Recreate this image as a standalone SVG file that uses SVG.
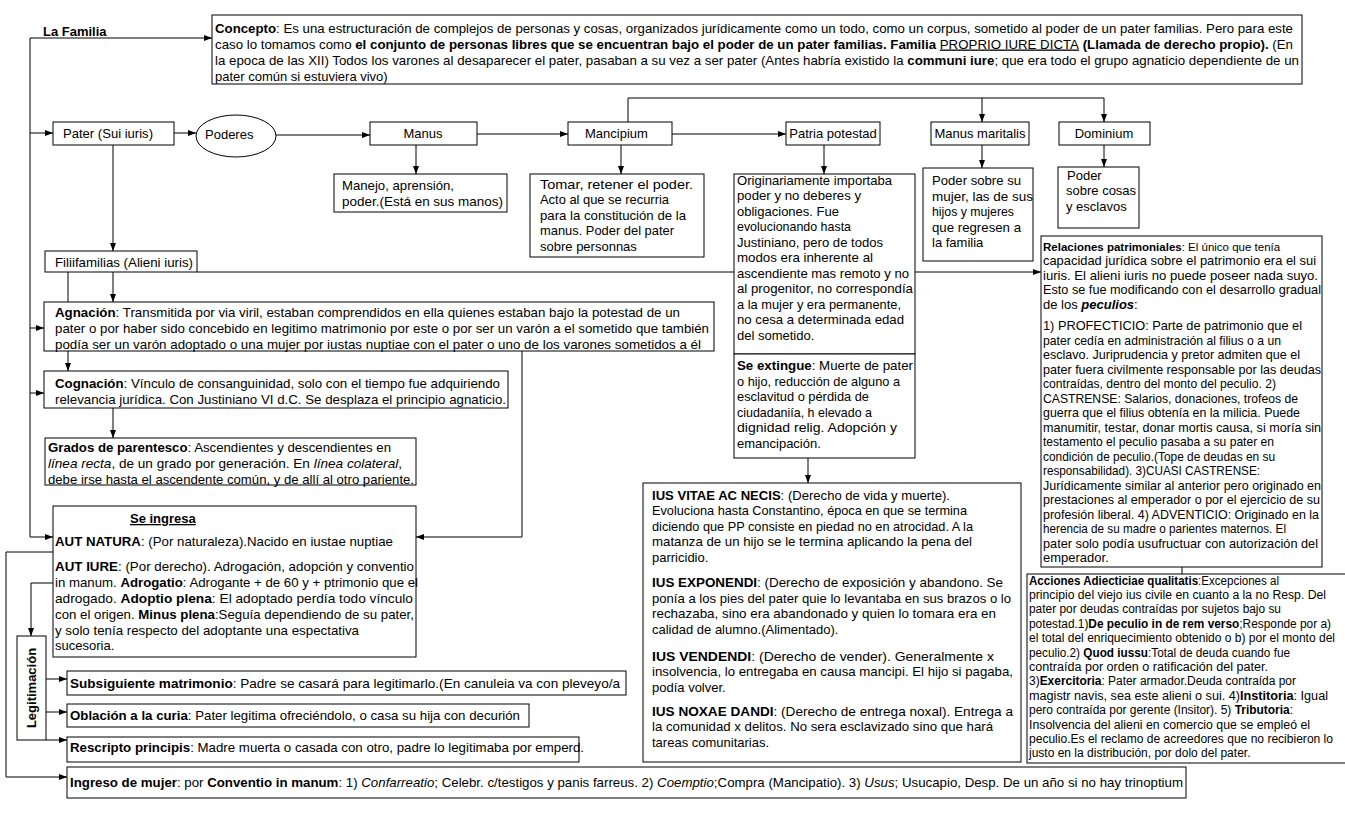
<svg xmlns="http://www.w3.org/2000/svg" width="1345" height="816" viewBox="0 0 1345 816">
<style>
.t{font-family:"Liberation Sans",Arial,sans-serif;font-size:13px;fill:#000}
.s{font-size:12px}
.b{font-weight:bold}
.i{font-style:italic}
.u{text-decoration:underline}
.box{fill:#fff;stroke:#000;stroke-width:1}
.ln{fill:none;stroke:#000;stroke-width:1}
</style>
<defs>
<marker id="ah" viewBox="0 0 8 6" refX="8" refY="3" markerWidth="8" markerHeight="6" markerUnits="userSpaceOnUse" orient="auto"><path d="M0,0 L8,3 L0,6 z" fill="#000"/></marker>
</defs>
<rect x="0" y="0" width="1345" height="816" fill="#fff"/>
<g id="connectors" class="ln">
<path d="M30,38 H212" marker-end="url(#ah)"/>
<path d="M30,38 V537 H53" marker-end="url(#ah)"/>
<path d="M30,133 H53" marker-end="url(#ah)"/>
<path d="M30,328 H44" marker-end="url(#ah)"/>
<path d="M30,393 H44" marker-end="url(#ah)"/>
<path d="M174,133 H196" marker-end="url(#ah)"/>
<path d="M276,135 H370" marker-end="url(#ah)"/>
<path d="M477,134 H568" marker-end="url(#ah)"/>
<path d="M672,134 H786" marker-end="url(#ah)"/>
<path d="M628,122 V98 H1104 V122" marker-end="url(#ah)"/>
<path d="M982,98 V122" marker-end="url(#ah)"/>
<path d="M416,145 V174" marker-end="url(#ah)"/>
<path d="M621,145 V174" marker-end="url(#ah)"/>
<path d="M824,145 V174" marker-end="url(#ah)"/>
<path d="M982,145 V168" marker-end="url(#ah)"/>
<path d="M1104,145 V167" marker-end="url(#ah)"/>
<path d="M113,145 V251" marker-end="url(#ah)"/>
<path d="M113,272 V302" marker-end="url(#ah)"/>
<path d="M68,272 V371" marker-end="url(#ah)"/>
<path d="M197,272 H1041" marker-end="url(#ah)"/>
<path d="M522,351 V537 H416" marker-end="url(#ah)"/>
<path d="M113,408 V438" marker-end="url(#ah)"/>
<path d="M808,458 V483" marker-end="url(#ah)"/>
<path d="M1182,567 V574"/>
<path d="M53,552 H6 V777 H67" marker-end="url(#ah)"/>
<path d="M53,583 H31 V636" marker-end="url(#ah)"/>
<path d="M46,679 H67" marker-end="url(#ah)"/>
<path d="M46,712 H67" marker-end="url(#ah)"/>
<path d="M46,740 H67" marker-end="url(#ah)"/>
</g>
<g id="la-familia">
<text class="t b" x="43" y="36">La Familia</text>
</g>
<g id="concepto">
<rect class="box" x="212" y="15" width="1090" height="69"/>
<text class="t" x="215" y="32.5" textLength="1078" lengthAdjust="spacingAndGlyphs"><tspan class="b">Concepto</tspan>:  Es una estructuración de complejos de personas y cosas, organizados jurídicamente como un todo, como un corpus, sometido al poder de un pater familias. Pero para este</text>
<text class="t" x="215" y="48.5" textLength="1078" lengthAdjust="spacingAndGlyphs">caso lo tomamos como <tspan class="b">el conjunto de personas libres que se encuentran bajo el poder de un pater familias. Familia </tspan><tspan class="u">PROPRIO IURE DICTA</tspan><tspan class="b"> (Llamada de derecho propio).</tspan> (En</text>
<text class="t" x="215" y="64.5" textLength="1084" lengthAdjust="spacingAndGlyphs">la epoca de las XII) Todos los varones al desaparecer el pater, pasaban a su vez a ser pater  (Antes habría existido la <tspan class="b">communi iure</tspan>; que era todo el grupo agnaticio dependiente de un</text>
<text class="t" x="215" y="80.5">pater común si estuviera vivo)</text>
</g>
<g id="pater">
<rect class="box" x="53" y="122" width="121" height="23"/>
<text class="t" x="63" y="138" textLength="90" lengthAdjust="spacingAndGlyphs">Pater (Sui iuris)</text>
</g>
<g id="poderes">
<ellipse class="box" cx="236" cy="136" rx="40" ry="21"/>
<text class="t" x="205" y="139">Poderes</text>
</g>
<g id="manus">
<rect class="box" x="370" y="122" width="107" height="23"/>
<text class="t" x="423" y="138" text-anchor="middle">Manus</text>
</g>
<g id="mancipium">
<rect class="box" x="568" y="122" width="104" height="23"/>
<text class="t" x="585" y="138">Mancipium</text>
</g>
<g id="patria-potestad">
<rect class="box" x="786" y="122" width="94" height="23"/>
<text class="t" x="833" y="138" text-anchor="middle">Patria potestad</text>
</g>
<g id="manus-maritalis">
<rect class="box" x="931" y="122" width="98" height="23"/>
<text class="t" x="980" y="138" text-anchor="middle">Manus maritalis</text>
</g>
<g id="dominium">
<rect class="box" x="1059" y="122" width="91" height="23"/>
<text class="t" x="1104" y="138" text-anchor="middle">Dominium</text>
</g>
<g id="manejo">
<rect class="box" x="334" y="174" width="173" height="38"/>
<text class="t" x="342" y="189.5" textLength="112" lengthAdjust="spacingAndGlyphs">Manejo, aprensión,</text>
<text class="t" x="342" y="205.5" textLength="161" lengthAdjust="spacingAndGlyphs">poder.(Está en sus manos)</text>
</g>
<g id="tomar">
<rect class="box" x="530" y="174" width="174" height="83"/>
<text class="t" x="540" y="188.5" textLength="153" lengthAdjust="spacingAndGlyphs">Tomar, retener el poder.</text>
<text class="t" x="540" y="204" textLength="129" lengthAdjust="spacingAndGlyphs">Acto al que se recurria</text>
<text class="t" x="540" y="219.5" textLength="146" lengthAdjust="spacingAndGlyphs">para la constitución de la</text>
<text class="t" x="540" y="235" textLength="134" lengthAdjust="spacingAndGlyphs">manus. Poder del pater</text>
<text class="t" x="540" y="250.5">sobre personnas</text>
</g>
<g id="originariamente">
<rect class="box" x="734" y="174" width="181" height="180"/>
<text class="t" x="737" y="184.5" textLength="155" lengthAdjust="spacingAndGlyphs">Originariamente importaba</text>
<text class="t" x="737" y="200" textLength="124" lengthAdjust="spacingAndGlyphs">poder y no deberes y</text>
<text class="t" x="737" y="215.5" textLength="102" lengthAdjust="spacingAndGlyphs">obligaciones. Fue</text>
<text class="t" x="737" y="231" textLength="114" lengthAdjust="spacingAndGlyphs">evolucionando hasta</text>
<text class="t" x="737" y="246.5" textLength="146" lengthAdjust="spacingAndGlyphs">Justiniano, pero de todos</text>
<text class="t" x="737" y="262" textLength="136" lengthAdjust="spacingAndGlyphs">modos era inherente  al</text>
<text class="t" x="737" y="277.5" textLength="172" lengthAdjust="spacingAndGlyphs">ascendiente mas remoto y no</text>
<text class="t" x="737" y="293" textLength="176" lengthAdjust="spacingAndGlyphs">al progenitor, no correspondía</text>
<text class="t" x="737" y="308.5" textLength="164" lengthAdjust="spacingAndGlyphs">a la mujer y era permanente,</text>
<text class="t" x="737" y="324" textLength="167" lengthAdjust="spacingAndGlyphs">no cesa a determinada edad</text>
<text class="t" x="737" y="339.5">del sometido.</text>
</g>
<g id="se-extingue">
<rect class="box" x="734" y="354" width="181" height="104"/>
<text class="t" x="737" y="370" textLength="176" lengthAdjust="spacingAndGlyphs"><tspan class="b">Se extingue</tspan>:  Muerte  de pater</text>
<text class="t" x="737" y="385.5" textLength="163" lengthAdjust="spacingAndGlyphs">o hijo, reducción de alguno a</text>
<text class="t" x="737" y="401" textLength="132" lengthAdjust="spacingAndGlyphs">esclavitud o pérdida de</text>
<text class="t" x="737" y="416.5" textLength="135" lengthAdjust="spacingAndGlyphs">ciudadaniía,  h elevado a</text>
<text class="t" x="737" y="432" textLength="160" lengthAdjust="spacingAndGlyphs">dignidad relig. Adopción y</text>
<text class="t" x="737" y="447.5">emancipación.</text>
</g>
<g id="poder-mujer">
<rect class="box" x="923" y="168" width="110" height="93"/>
<text class="t" x="932" y="185" textLength="89" lengthAdjust="spacingAndGlyphs">Poder sobre su</text>
<text class="t" x="932" y="200.5" textLength="101" lengthAdjust="spacingAndGlyphs">mujer,  las de sus</text>
<text class="t" x="932" y="216" textLength="82" lengthAdjust="spacingAndGlyphs">hijos y mujeres</text>
<text class="t" x="932" y="231.5" textLength="89" lengthAdjust="spacingAndGlyphs">que regresen a</text>
<text class="t" x="932" y="247">la familia</text>
</g>
<g id="poder-cosas">
<rect class="box" x="1058" y="167" width="81" height="61"/>
<text class="t" x="1067" y="179.5">Poder</text>
<text class="t" x="1066" y="195">sobre cosas</text>
<text class="t" x="1066" y="210.5">y esclavos</text>
</g>
<g id="filiifamilias">
<rect class="box" x="45" y="251" width="152" height="21"/>
<text class="t" x="55" y="267" textLength="138" lengthAdjust="spacingAndGlyphs">Filiifamilias (Alieni iuris)</text>
</g>
<g id="relaciones">
<rect class="box" x="1041" y="236" width="281" height="331"/>
<text class="t" x="1043" y="250.5" style="font-size:11.5px"><tspan class="b">Relaciones patrimoniales</tspan>: El único que tenía</text>
<text class="t" x="1043" y="265" textLength="273" lengthAdjust="spacingAndGlyphs">capacidad jurídica sobre el patrimonio era el sui</text>
<text class="t" x="1043" y="279.5" textLength="275" lengthAdjust="spacingAndGlyphs">iuris. El alieni iuris no puede poseer nada suyo.</text>
<text class="t" x="1043" y="294" textLength="278" lengthAdjust="spacingAndGlyphs">Esto se fue modificando con el desarrollo gradual</text>
<text class="t" x="1043" y="308.5">de los <tspan class="b i">peculios</tspan>:</text>
<text class="t" x="1043" y="330" textLength="259" lengthAdjust="spacingAndGlyphs">1) PROFECTICIO:  Parte de patrimonio que el</text>
<text class="t" x="1043" y="344.5" textLength="238" lengthAdjust="spacingAndGlyphs">pater cedía en administración al filius o a un</text>
<text class="t" x="1043" y="359" textLength="257" lengthAdjust="spacingAndGlyphs">esclavo. Juriprudencia y pretor admiten que el</text>
<text class="t" x="1043" y="373.5" textLength="278" lengthAdjust="spacingAndGlyphs">pater fuera civilmente responsable por las deudas</text>
<text class="t" x="1043" y="388" textLength="233" lengthAdjust="spacingAndGlyphs">contraídas, dentro del monto del peculio. 2)</text>
<text class="t" x="1043" y="402.5" textLength="255" lengthAdjust="spacingAndGlyphs">CASTRENSE: Salarios, donaciones, trofeos de</text>
<text class="t" x="1043" y="417" textLength="257" lengthAdjust="spacingAndGlyphs">guerra que el filius obtenía en la milicia. Puede</text>
<text class="t" x="1043" y="431.5" textLength="278" lengthAdjust="spacingAndGlyphs">manumitir, testar, donar mortis causa, si moría sin</text>
<text class="t" x="1043" y="446" textLength="231" lengthAdjust="spacingAndGlyphs">testamento el peculio pasaba a su pater en</text>
<text class="t" x="1043" y="460.5" textLength="232" lengthAdjust="spacingAndGlyphs">condición de peculio.(Tope de deudas en su</text>
<text class="t" x="1043" y="475" textLength="217" lengthAdjust="spacingAndGlyphs">responsabilidad). 3)CUASI CASTRENSE:</text>
<text class="t" x="1043" y="489.5" textLength="278" lengthAdjust="spacingAndGlyphs">Jurídicamente similar al anterior pero originado en</text>
<text class="t" x="1043" y="504" textLength="277" lengthAdjust="spacingAndGlyphs">prestaciones al emperador o por el ejercicio de su</text>
<text class="t" x="1043" y="518.5" textLength="276" lengthAdjust="spacingAndGlyphs">profesión liberal. 4) ADVENTICIO: Originado en la</text>
<text class="t" x="1043" y="533" textLength="243" lengthAdjust="spacingAndGlyphs">herencia de su madre o parientes maternos. El</text>
<text class="t" x="1043" y="547.5" textLength="275" lengthAdjust="spacingAndGlyphs">pater solo podía usufructuar con autorización del</text>
<text class="t" x="1043" y="562">emperador.</text>
</g>
<g id="acciones">
<rect class="box" x="1027" y="574" width="330" height="189"/>
<text class="t s" x="1029" y="584.5" textLength="250" lengthAdjust="spacingAndGlyphs"><tspan class="b">Acciones Adiecticiae qualitatis</tspan>:Excepciones al</text>
<text class="t s" x="1029" y="598.9" textLength="297" lengthAdjust="spacingAndGlyphs">principio del viejo ius civile en cuanto a la no Resp.  Del</text>
<text class="t s" x="1029" y="613.3" textLength="252" lengthAdjust="spacingAndGlyphs">pater por deudas contraídas por sujetos bajo su</text>
<text class="t s" x="1029" y="627.7" textLength="302" lengthAdjust="spacingAndGlyphs">potestad.1)<tspan class="b">De peculio in de rem verso</tspan>;Responde por a)</text>
<text class="t s" x="1029" y="642.1" textLength="306" lengthAdjust="spacingAndGlyphs">el total del enriquecimiento obtenido o b) por el monto del</text>
<text class="t s" x="1029" y="656.5" textLength="261" lengthAdjust="spacingAndGlyphs">peculio.2) <tspan class="b">Quod iussu</tspan>:Total  de deuda cuando fue</text>
<text class="t s" x="1029" y="670.9" textLength="239" lengthAdjust="spacingAndGlyphs">contraída por orden o ratificación del pater.</text>
<text class="t s" x="1029" y="685.3" textLength="267" lengthAdjust="spacingAndGlyphs">3)<tspan class="b">Exercitoria</tspan>: Pater armador.Deuda contraída por</text>
<text class="t s" x="1029" y="699.7" textLength="299" lengthAdjust="spacingAndGlyphs">magistr navis, sea este alieni o sui. 4)<tspan class="b">Institoria</tspan>:  Igual</text>
<text class="t s" x="1029" y="714.1" textLength="264" lengthAdjust="spacingAndGlyphs">pero contraída por gerente (Insitor).  5) <tspan class="b">Tributoria</tspan>:</text>
<text class="t s" x="1029" y="728.5" textLength="281" lengthAdjust="spacingAndGlyphs">Insolvencia del alieni en comercio que se empleó el</text>
<text class="t s" x="1029" y="742.9" textLength="304" lengthAdjust="spacingAndGlyphs">peculio.Es el reclamo de acreedores que no recibieron lo</text>
<text class="t s" x="1029" y="757.3">justo en la distribución, por dolo del pater.</text>
</g>
<g id="agnacion">
<rect class="box" x="44" y="302" width="670" height="49"/>
<text class="t" x="55" y="317" textLength="625" lengthAdjust="spacingAndGlyphs"><tspan class="b">Agnación</tspan>:  Transmitida por via viril, estaban comprendidos en ella quienes estaban bajo la potestad de un</text>
<text class="t" x="55" y="333" textLength="654" lengthAdjust="spacingAndGlyphs">pater o por haber sido concebido en legitimo matrimonio por este o por ser un varón a el sometido que también</text>
<text class="t" x="55" y="349" textLength="646" lengthAdjust="spacingAndGlyphs">podía ser un varón adoptado o una mujer por iustas nuptiae con el pater o uno  de los varones sometidos a él</text>
</g>
<g id="cognacion">
<rect class="box" x="44" y="371" width="464" height="37"/>
<text class="t" x="55" y="388" textLength="445" lengthAdjust="spacingAndGlyphs"><tspan class="b">Cognación</tspan>:  Vínculo de consanguinidad, solo con el tiempo fue adquiriendo</text>
<text class="t" x="55" y="404" textLength="451" lengthAdjust="spacingAndGlyphs">relevancia jurídica. Con Justiniano VI d.C. Se desplaza el principio agnaticio.</text>
</g>
<g id="grados">
<rect class="box" x="45" y="438" width="371" height="47"/>
<text class="t" x="48" y="452" textLength="343" lengthAdjust="spacingAndGlyphs"><tspan class="b">Grados  de parentesco</tspan>:  Ascendientes y descendientes en</text>
<text class="t" x="48" y="468" textLength="354" lengthAdjust="spacingAndGlyphs"><tspan class="i">línea recta</tspan>,  de un  grado por generación. En <tspan class="i">línea colateral</tspan>,</text>
<text class="t" x="48" y="483.5" textLength="366" lengthAdjust="spacingAndGlyphs">debe irse hasta el ascendente común, y de allí al otro pariente.</text>
</g>
<g id="se-ingresa">
<rect class="box" x="53" y="506" width="363" height="151"/>
<text class="t b u" x="130" y="523">Se ingresa</text>
<text class="t" x="55" y="546" textLength="338" lengthAdjust="spacingAndGlyphs"><tspan class="b">AUT NATURA</tspan>:  (Por naturaleza).Nacido  en iustae nuptiae</text>
<text class="t" x="55" y="571" textLength="359" lengthAdjust="spacingAndGlyphs"><tspan class="b">AUT IURE</tspan>: (Por derecho). Adrogación, adopción y conventio</text>
<text class="t" x="55" y="586.5" textLength="363" lengthAdjust="spacingAndGlyphs">in manum.  <tspan class="b">Adrogatio</tspan>:  Adrogante + de 60  y + ptrimonio que el</text>
<text class="t" x="55" y="602.5" textLength="358" lengthAdjust="spacingAndGlyphs">adrogado. <tspan class="b">Adoptio plena</tspan>:  El adoptado perdía todo vínculo</text>
<text class="t" x="55" y="618.5" textLength="359" lengthAdjust="spacingAndGlyphs">con el origen. <tspan class="b">Minus plena</tspan>:Seguía  dependiendo de su pater,</text>
<text class="t" x="55" y="634.5" textLength="304" lengthAdjust="spacingAndGlyphs">y solo tenía respecto del adoptante una espectativa</text>
<text class="t" x="55" y="650">sucesoria.</text>
</g>
<g id="ius">
<rect class="box" x="643" y="483" width="378" height="279"/>
<text class="t" x="652" y="499.5" textLength="298" lengthAdjust="spacingAndGlyphs"><tspan class="b">IUS VITAE AC NECIS</tspan>: (Derecho de vida y muerte).</text>
<text class="t" x="652" y="515" textLength="315" lengthAdjust="spacingAndGlyphs">Evoluciona hasta Constantino, época en que se termina</text>
<text class="t" x="652" y="530.5" textLength="321" lengthAdjust="spacingAndGlyphs">diciendo que PP consiste en piedad no en atrocidad. A la</text>
<text class="t" x="652" y="546" textLength="320" lengthAdjust="spacingAndGlyphs">matanza  de un hijo se le termina aplicando la pena del</text>
<text class="t" x="652" y="561.5">parricidio.</text>
<text class="t" x="652" y="587" textLength="351" lengthAdjust="spacingAndGlyphs"><tspan class="b">IUS EXPONENDI</tspan>: (Derecho  de exposición y abandono. Se</text>
<text class="t" x="652" y="602.5" textLength="359" lengthAdjust="spacingAndGlyphs">ponía a los pies del pater quie lo levantaba en sus brazos o lo</text>
<text class="t" x="652" y="618" textLength="344" lengthAdjust="spacingAndGlyphs">rechazaba,  sino era abandonado y quien lo tomara era  en</text>
<text class="t" x="652" y="633.5">calidad de alumno.(Alimentado).</text>
<text class="t" x="652" y="660.5" textLength="342" lengthAdjust="spacingAndGlyphs"><tspan class="b">IUS VENDENDI</tspan>:  (Derecho de vender). Generalmente  x</text>
<text class="t" x="652" y="676" textLength="361" lengthAdjust="spacingAndGlyphs">insolvencia, lo entregaba en causa mancipi. El hijo si pagaba,</text>
<text class="t" x="652" y="691.5">podía volver.</text>
<text class="t" x="652" y="715.5" textLength="361" lengthAdjust="spacingAndGlyphs"><tspan class="b">IUS NOXAE  DANDI</tspan>: (Derecho  de entrega noxal). Entrega a</text>
<text class="t" x="652" y="731" textLength="341" lengthAdjust="spacingAndGlyphs">la comunidad x delitos. No sera esclavizado sino que hará</text>
<text class="t" x="652" y="746.5">tareas comunitarias.</text>
</g>
<g id="legitimacion">
<rect class="box" x="17" y="636" width="29" height="104"/>
<text class="t b" transform="translate(36,688) rotate(-90)" x="0" y="0" text-anchor="middle">Legitimación</text>
</g>
<g id="subsiguiente">
<rect class="box" x="67" y="671" width="559" height="24"/>
<text class="t" x="70" y="687.5" textLength="550" lengthAdjust="spacingAndGlyphs"><tspan class="b">Subsiguiente matrimonio</tspan>: Padre se casará para legitimarlo.(En canuleia va con pleveyo/a</text>
</g>
<g id="oblacion">
<rect class="box" x="67" y="704" width="462" height="23"/>
<text class="t" x="70" y="720" textLength="450" lengthAdjust="spacingAndGlyphs"><tspan class="b">Oblación a la curia</tspan>: Pater legitima ofreciéndolo, o casa su hija con decurión</text>
</g>
<g id="rescripto">
<rect class="box" x="67" y="737" width="512" height="25"/>
<text class="t" x="70" y="752" textLength="514" lengthAdjust="spacingAndGlyphs"><tspan class="b">Rescripto  principis</tspan>: Madre muerta  o casada con otro, padre lo legitimaba por emperd.</text>
</g>
<g id="ingreso">
<rect class="box" x="67" y="767" width="1119" height="31"/>
<text class="t" x="70" y="787" textLength="1113" lengthAdjust="spacingAndGlyphs"><tspan class="b">Ingreso  de mujer</tspan>: por <tspan class="b">Conventio  in manum</tspan>:  1) <tspan class="i">Confarreatio</tspan>;  Celebr. c/testigos y panis farreus. 2) <tspan class="i">Coemptio</tspan>;Compra  (Mancipatio).  3) <tspan class="i">Usus</tspan>;  Usucapio, Desp. De un año si no hay trinoptium</text>
</g>
</svg>
